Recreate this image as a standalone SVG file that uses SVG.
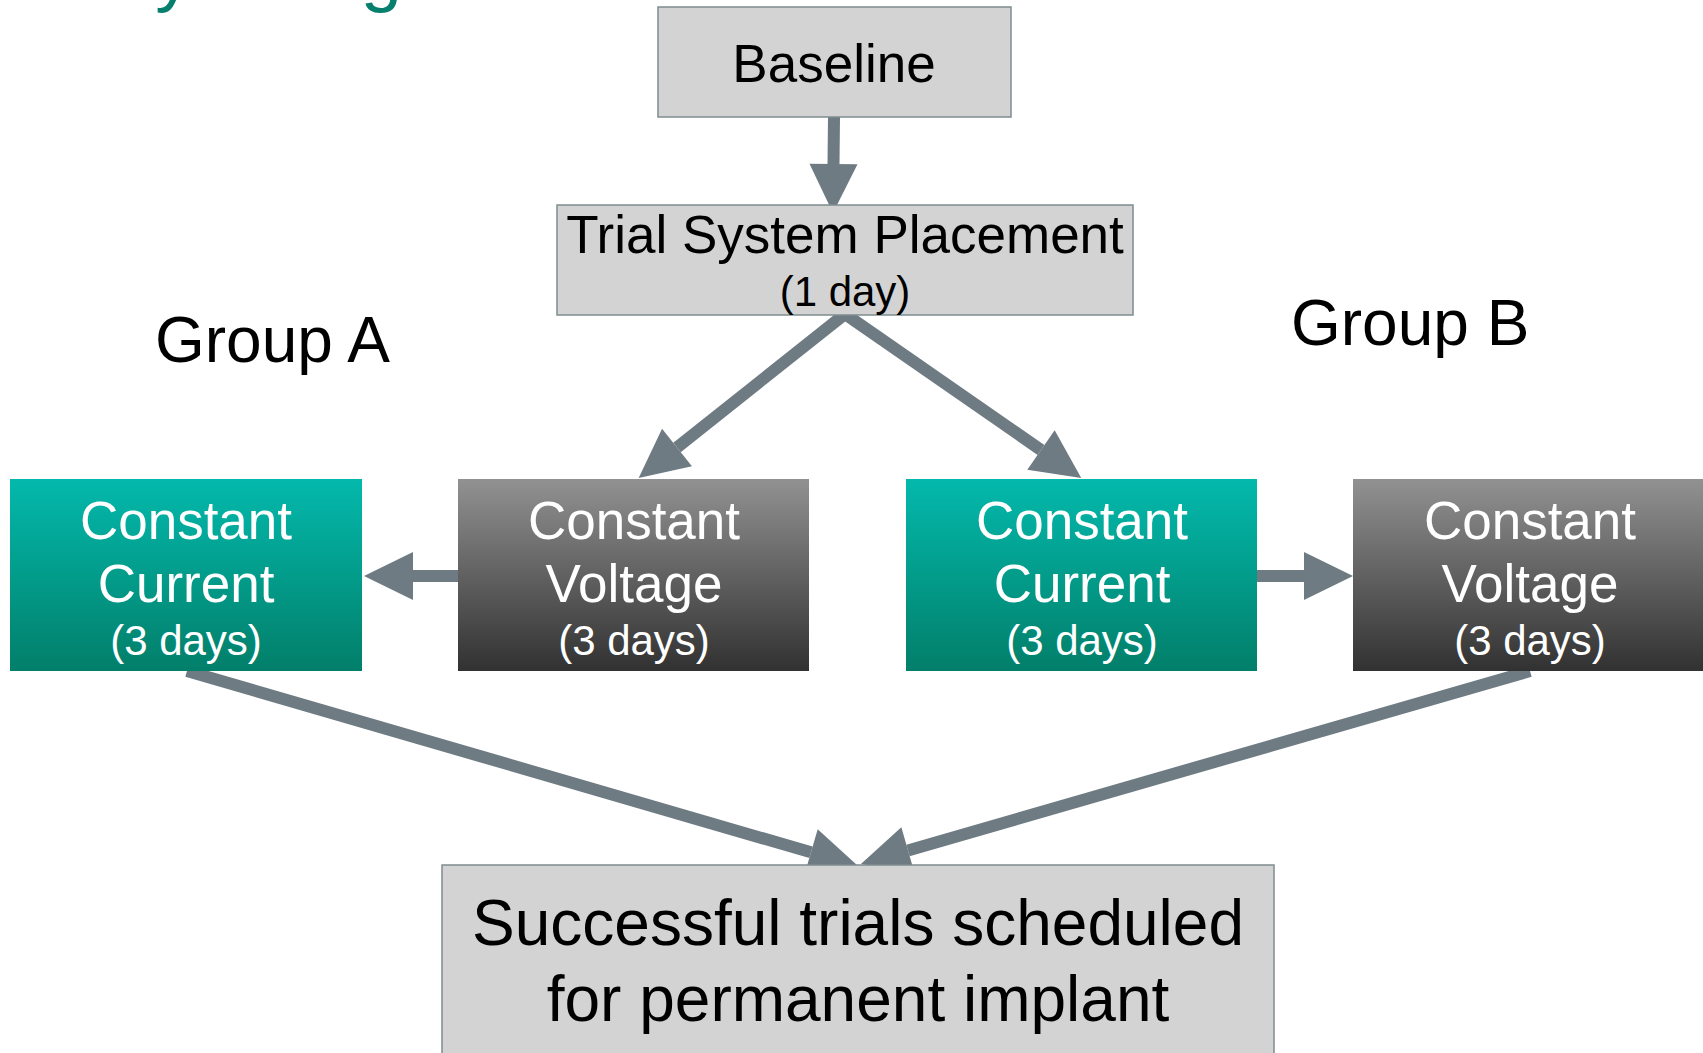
<svg xmlns="http://www.w3.org/2000/svg" width="1703" height="1053" viewBox="0 0 1703 1053">
<style>
.box{fill:#d3d3d3;stroke:#7f8c90;stroke-width:1.5}
.t{font-family:"Liberation Sans",Arial,sans-serif;text-anchor:middle}
.dk{fill:#000}
.wt{fill:#fff}
.con{stroke:#6e7b83;stroke-width:12;fill:none;marker-end:url(#ah)}
</style>
<defs>
<linearGradient id="teal" x1="0" y1="0" x2="0" y2="1">
<stop offset="0" stop-color="#03b9ac"/>
<stop offset="1" stop-color="#027f6a"/>
</linearGradient>
<linearGradient id="gray" x1="0" y1="0" x2="0" y2="1">
<stop offset="0" stop-color="#919191"/>
<stop offset="1" stop-color="#313131"/>
</linearGradient>
<marker id="ah" markerUnits="userSpaceOnUse" viewBox="0 -24 49 48" markerWidth="49" markerHeight="48" refX="0" refY="0" orient="auto" overflow="visible">
<path d="M0,-24 L49,0 L0,24 z" fill="#6e7b83"/>
</marker>
</defs>
<rect width="1703" height="1053" fill="#fff"/>
<text x="3" y="-2" font-family="'Liberation Sans',Arial,sans-serif" font-size="74" fill="#077f6e">Study Design</text>

<g id="connectors">
<line class="con" x1="834" y1="117" x2="833.5" y2="164"/>
<line class="con" x1="845" y1="314" x2="677" y2="447.5"/>
<line class="con" x1="845" y1="314" x2="1041" y2="450"/>
<line class="con" x1="458" y1="576" x2="413" y2="576"/>
<line class="con" x1="1257" y1="576" x2="1304" y2="576"/>
<line class="con" x1="187" y1="671" x2="811" y2="852.3"/>
<line class="con" x1="1530" y1="671" x2="908" y2="850.4"/>
</g>

<g id="baseline">
<rect class="box" x="658" y="7" width="353" height="110"/>
<text class="t dk" x="834" y="82" font-size="53">Baseline</text>
</g>

<g id="trial">
<rect class="box" x="557" y="205" width="576" height="110"/>
<text class="t dk" x="845" y="253" font-size="53">Trial System Placement</text>
<text class="t dk" x="845" y="306" font-size="42">(1 day)</text>
</g>

<g id="groupA">
<text x="155" y="362" font-family="'Liberation Sans',Arial,sans-serif" font-size="64" fill="#000">Group A</text>
</g>
<g id="groupB">
<text x="1291" y="345" font-family="'Liberation Sans',Arial,sans-serif" font-size="64" fill="#000">Group B</text>
</g>

<g id="ccA">
<rect x="10" y="479" width="352" height="192" fill="url(#teal)"/>
<text class="t wt" x="186" y="539" font-size="53">Constant</text>
<text class="t wt" x="186" y="602" font-size="53">Current</text>
<text class="t wt" x="186" y="655" font-size="42">(3 days)</text>
</g>

<g id="cvA">
<rect x="458" y="479" width="351" height="192" fill="url(#gray)"/>
<text class="t wt" x="634" y="539" font-size="53">Constant</text>
<text class="t wt" x="634" y="602" font-size="53">Voltage</text>
<text class="t wt" x="634" y="655" font-size="42">(3 days)</text>
</g>

<g id="ccB">
<rect x="906" y="479" width="351" height="192" fill="url(#teal)"/>
<text class="t wt" x="1082" y="539" font-size="53">Constant</text>
<text class="t wt" x="1082" y="602" font-size="53">Current</text>
<text class="t wt" x="1082" y="655" font-size="42">(3 days)</text>
</g>

<g id="cvB">
<rect x="1353" y="479" width="352" height="192" fill="url(#gray)"/>
<text class="t wt" x="1530" y="539" font-size="53">Constant</text>
<text class="t wt" x="1530" y="602" font-size="53">Voltage</text>
<text class="t wt" x="1530" y="655" font-size="42">(3 days)</text>
</g>

<g id="result">
<rect class="box" x="442" y="865" width="832" height="200"/>
<text class="t dk" x="858" y="945" font-size="64">Successful trials scheduled</text>
<text class="t dk" x="858" y="1021" font-size="64">for permanent implant</text>
</g>
</svg>
